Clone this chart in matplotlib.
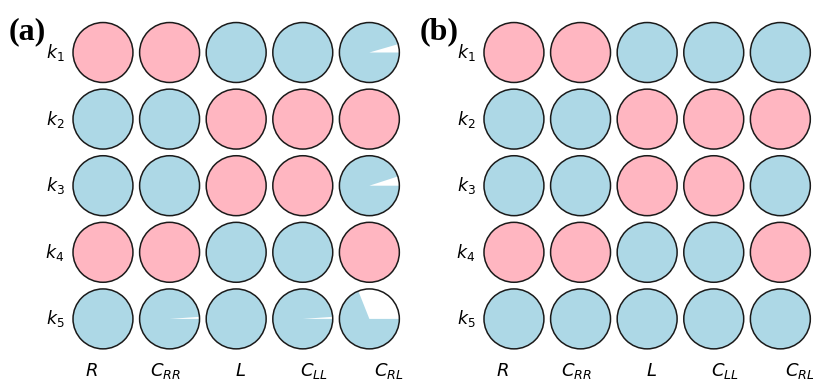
import matplotlib
matplotlib.use('Agg')
import matplotlib.pyplot as plt
from matplotlib.patches import Wedge, Circle

# rows k1..k5, columns R, C_RR, L, C_LL, C_RL ; 1 = pink, 0 = blue
row_labels = [r'$k_1$', r'$k_2$', r'$k_3$', r'$k_4$', r'$k_5$']
col_labels = [r'$R$', r'$C_{RR}$', r'$L$', r'$C_{LL}$', r'$C_{RL}$']

class_a = [[1, 1, 0, 0, 0],
           [0, 0, 1, 1, 1],
           [0, 0, 1, 1, 0],
           [1, 1, 0, 0, 1],
           [0, 0, 0, 0, 0]]
# fraction of each circle left white
white_a = [[0, 0, 0, 0, 0.045],
           [0, 0, 0, 0, 0],
           [0, 0, 0, 0, 0.05],
           [0, 0, 0, 0, 0],
           [0, 0.011, 0, 0.011, 0.31]]

class_b = [[1, 1, 0, 0, 0],
           [0, 0, 1, 1, 1],
           [0, 0, 1, 1, 0],
           [1, 1, 0, 0, 1],
           [0, 0, 0, 0, 0]]
white_b = [[0, 0, 0, 0, 0],
           [0, 0, 0, 0, 0],
           [0, 0, 0, 0, 0],
           [0, 0, 0, 0, 0],
           [0, 0, 0, 0, 0]]

colors = {0: '#ADD8E6', 1: '#FFB6C1'}
R = 0.45


def draw_panel(ax, cls, white, tag):
    for i in range(5):
        for j in range(5):
            x, y = j, -i
            w = white[i][j]
            theta = 360 * w
            if w > 0:
                ax.add_patch(Wedge((x, y), R, 0, theta, facecolor='white', edgecolor='none'))
            ax.add_patch(Wedge((x, y), R, theta, 360, facecolor=colors[cls[i][j]], edgecolor='none'))
            ax.add_patch(Circle((x, y), R, fill=False, edgecolor='#1a1a1a', lw=1.1))
    for i, lab in enumerate(row_labels):
        ax.text(-0.58, -i, lab, ha='right', va='center', fontsize=12.5)
    for j, lab in enumerate(col_labels):
        ax.text(-0.17 + 1.115 * j, -4.78, lab, ha='center', va='center', fontsize=13)
    ax.text(-1.42, 0.31, tag, ha='left', va='center', fontsize=23,
            fontweight='bold', family='Liberation Serif')
    ax.set_xlim(-0.5, 4.5)
    ax.set_ylim(-4.5, 0.5)
    ax.set_aspect('equal')
    ax.axis('off')


fig = plt.figure(figsize=(8.13, 3.81), dpi=100)
ax_a = fig.add_axes([0.0857, 0.0756, 0.4096, 0.874])
ax_b = fig.add_axes([0.5912, 0.0756, 0.4096, 0.874])
draw_panel(ax_a, class_a, white_a, '(a)')
draw_panel(ax_b, class_b, white_b, '(b)')

fig.savefig('out.png', dpi=100)
